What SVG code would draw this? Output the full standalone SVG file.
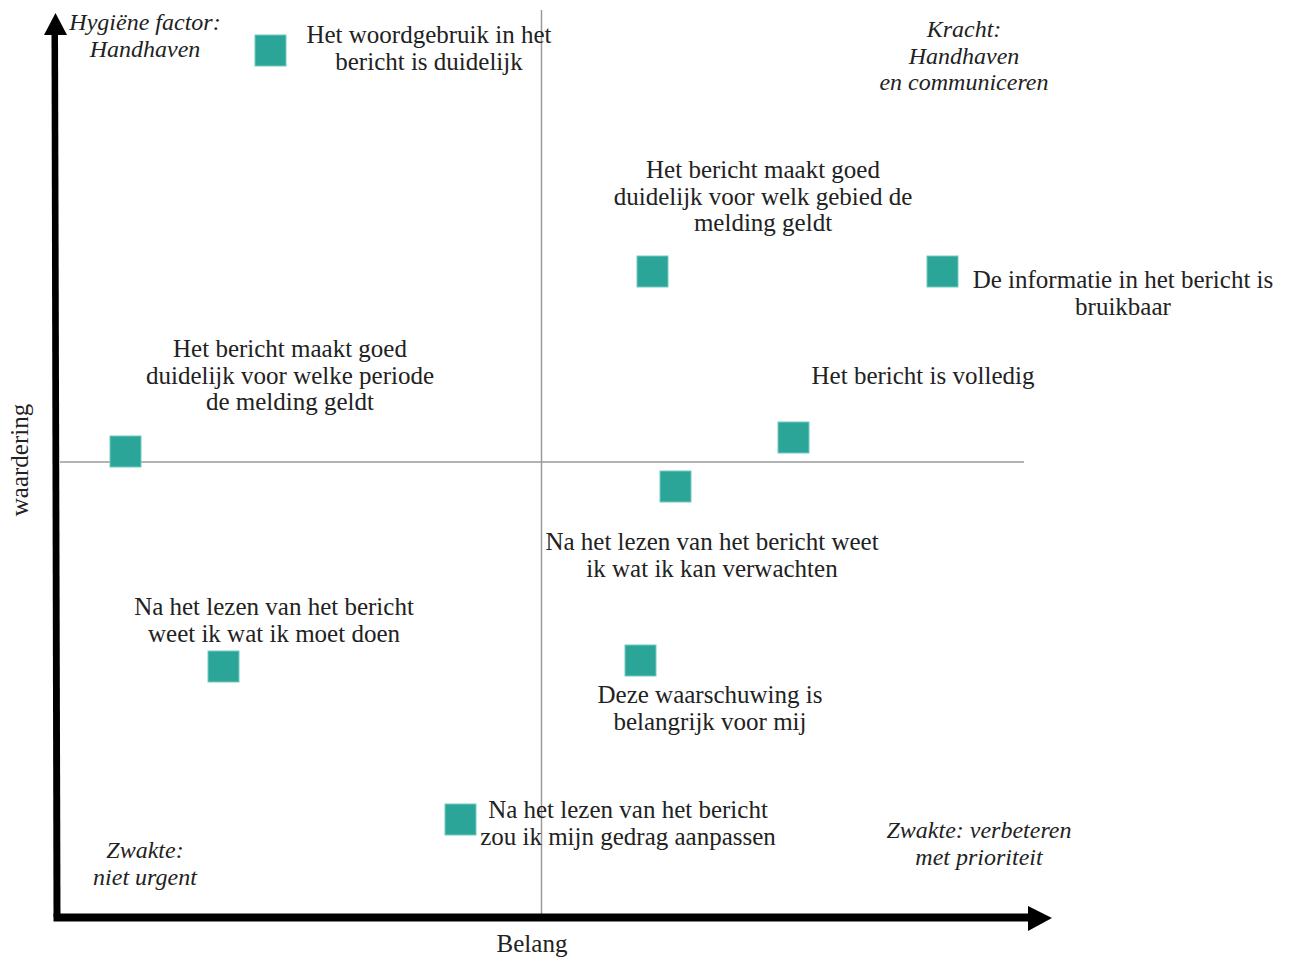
<svg xmlns="http://www.w3.org/2000/svg" width="1298" height="961" viewBox="0 0 1298 961">
<style>
.t{font-family:"Liberation Serif","Times New Roman",serif;font-size:25px;fill:#222;text-anchor:middle}
.i{font-family:"Liberation Serif","Times New Roman",serif;font-size:24px;font-style:italic;fill:#222;text-anchor:middle}
.sq{fill:#2aa597;stroke:#74cabf;stroke-width:1}
.grid{stroke:#9a9a9a;stroke-width:1.5;fill:none}
</style>
<rect width="1298" height="961" fill="#fff"/>
<g id="connectors">
<line class="grid" x1="541.5" y1="10" x2="541.5" y2="914"/>
<line class="grid" x1="60" y1="462" x2="1024" y2="462"/>
<polygon points="51.5,35 58,35 60.5,917 53.5,917" fill="#000"/>
<polygon points="55.5,13 67,35 44,35" fill="#000"/>
<polygon points="53.5,913.5 1030,913.5 1030,921.5 53.5,921.5" fill="#000"/>
<polygon points="1052,918 1028,906 1028,931" fill="#000"/>
</g>
<g id="quadrant-labels">
<text class="i" x="145" y="30">Hygiëne factor:</text>
<text class="i" x="145" y="57">Handhaven</text>
<text class="i" x="964" y="37">Kracht:</text>
<text class="i" x="964" y="64">Handhaven</text>
<text class="i" x="964" y="90">en communiceren</text>
<text class="i" x="145" y="858">Zwakte:</text>
<text class="i" x="145" y="885">niet urgent</text>
<text class="i" x="979" y="838">Zwakte: verbeteren</text>
<text class="i" x="979" y="865">met prioriteit</text>
</g>
<g id="axis-labels">
<text class="t" x="532" y="952">Belang</text>
<text class="t" transform="translate(28 460) rotate(-90)" x="0" y="0">waardering</text>
</g>
<g id="node-woordgebruik">
<rect class="sq" x="255" y="35" width="31" height="31"/>
<text class="t" x="429" y="43">Het woordgebruik in het</text>
<text class="t" x="429" y="70">bericht is duidelijk</text>
</g>
<g id="node-gebied">
<rect class="sq" x="637" y="256" width="31" height="31"/>
<text class="t" x="763" y="178">Het bericht maakt goed</text>
<text class="t" x="763" y="205">duidelijk voor welk gebied de</text>
<text class="t" x="763" y="231">melding geldt</text>
</g>
<g id="node-bruikbaar">
<rect class="sq" x="927" y="256" width="31" height="31"/>
<text class="t" x="1123" y="288">De informatie in het bericht is</text>
<text class="t" x="1123" y="315">bruikbaar</text>
</g>
<g id="node-periode">
<rect class="sq" x="110" y="436" width="31" height="31"/>
<text class="t" x="290" y="357">Het bericht maakt goed</text>
<text class="t" x="290" y="384">duidelijk voor welke periode</text>
<text class="t" x="290" y="410">de melding geldt</text>
</g>
<g id="node-volledig">
<rect class="sq" x="778" y="422" width="31" height="31"/>
<text class="t" x="923" y="384">Het bericht is volledig</text>
</g>
<g id="node-verwachten">
<rect class="sq" x="660" y="471" width="31" height="31"/>
<text class="t" x="712" y="550">Na het lezen van het bericht weet</text>
<text class="t" x="712" y="577">ik wat ik kan verwachten</text>
</g>
<g id="node-doen">
<rect class="sq" x="208" y="651" width="31" height="31"/>
<text class="t" x="274" y="615">Na het lezen van het bericht</text>
<text class="t" x="274" y="642">weet ik wat ik moet doen</text>
</g>
<g id="node-belangrijk">
<rect class="sq" x="625" y="645" width="31" height="31"/>
<text class="t" x="710" y="703">Deze waarschuwing is</text>
<text class="t" x="710" y="730">belangrijk voor mij</text>
</g>
<g id="node-gedrag">
<rect class="sq" x="445" y="804" width="31" height="31"/>
<text class="t" x="628" y="818">Na het lezen van het bericht</text>
<text class="t" x="628" y="845">zou ik mijn gedrag aanpassen</text>
</g>
</svg>
